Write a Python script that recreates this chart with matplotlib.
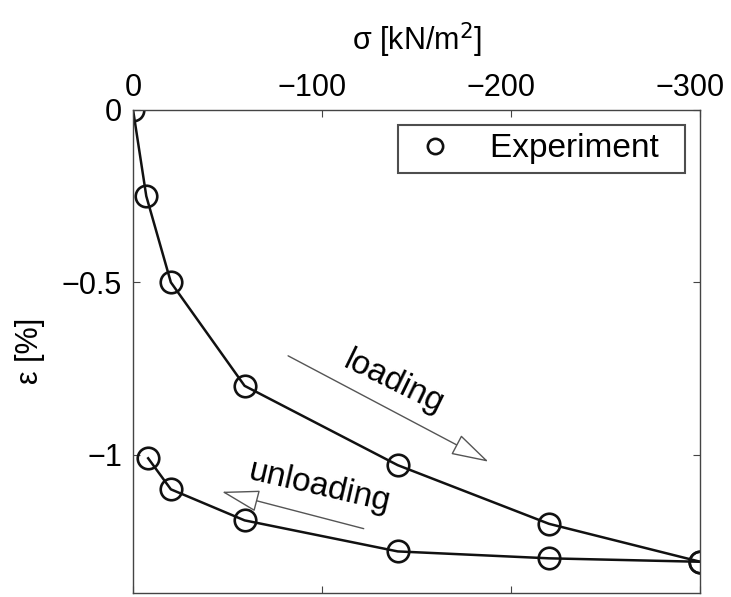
import matplotlib.pyplot as plt
from matplotlib.transforms import ScaledTranslation

plt.rcParams['font.family'] = ['Liberation Sans', 'DejaVu Sans']

# loading branch
sigma_load = [0, -7, -20, -59, -140, -220, -300]
eps_load = [0, -0.25, -0.50, -0.80, -1.03, -1.20, -1.31]
# unloading branch
sigma_unload = [-300, -220, -140, -59, -20, -8]
eps_unload = [-1.31, -1.30, -1.28, -1.19, -1.10, -1.01]

xticks = [0, -100, -200, -300]
xtick_labels = ['0', '\u2212100', '\u2212200', '\u2212300']
yticks = [0, -0.5, -1]
ytick_labels = ['0', '\u22120.5', '\u22121']

fig = plt.figure(figsize=(7.31, 5.97), dpi=100)
ax = fig.add_axes([0.182, 0.007, 0.776, 0.809])

style = dict(color='#111111', linewidth=1.8, marker='o', markersize=15.5,
             markerfacecolor='none', markeredgewidth=1.9, markeredgecolor='#111111')
ax.plot(sigma_load, eps_load, label='Experiment  ', **style)
ax.plot(sigma_unload, eps_unload, **style)

ax.set_xlim(0, -300)
ax.set_ylim(-1.4, 0)
ax.set_xticks(xticks)
ax.set_xticklabels(xtick_labels)
ax.set_yticks(yticks)
ax.set_yticklabels(ytick_labels)
ax.xaxis.tick_top()
ax.xaxis.set_label_position('top')
ax.tick_params(direction='in', top=True, bottom=True, left=True, right=True,
               labelbottom=False, labeltop=True, labelsize=22, length=5,
               color='#444444')
ax.tick_params(axis='x', pad=5)
ax.tick_params(axis='y', pad=8)
# digits centred on the tick, minus sign hanging to the left
for lab in ax.get_xticklabels():
    if lab.get_text().startswith('\u2212'):
        lab.set_transform(lab.get_transform() + ScaledTranslation(-0.10, 0, fig.dpi_scale_trans))
for s in ax.spines.values():
    s.set_color('#444444')
    s.set_linewidth(1.0)

ax.set_xlabel('\u03c3 [kN/m$^2$]', fontsize=22, labelpad=16)
ax.set_ylabel('\u03b5 [%]', fontsize=22, labelpad=12)

arrow = dict(arrowstyle='-|>,head_length=1.2,head_width=0.35', mutation_scale=20,
             facecolor='white', edgecolor='#555555', linewidth=1.0, shrinkA=0, shrinkB=0)
ax.annotate('', xy=(-188, -1.02), xytext=(-82, -0.713), arrowprops=arrow)
ax.annotate('', xy=(-47, -1.107), xytext=(-122, -1.214), arrowprops=arrow)
ax.text(-138, -0.79, 'loading', fontsize=24, rotation=-26, ha='center', va='center',
        rotation_mode='anchor')
ax.text(-99, -1.095, 'unloading', fontsize=24, rotation=-13, ha='center', va='center',
        rotation_mode='anchor')

leg = ax.legend(loc='upper right', fontsize=24, frameon=True, fancybox=False,
                borderaxespad=0.45, handlelength=1.7, handletextpad=0.8,
                borderpad=0.25, numpoints=1)
leg.get_frame().set_edgecolor('#222222')
leg.get_frame().set_linewidth(1.5)
for h in leg.legend_handles:
    h.set_linestyle('none')
    h.set_markersize(11)

fig.savefig('out.png', dpi=100)
